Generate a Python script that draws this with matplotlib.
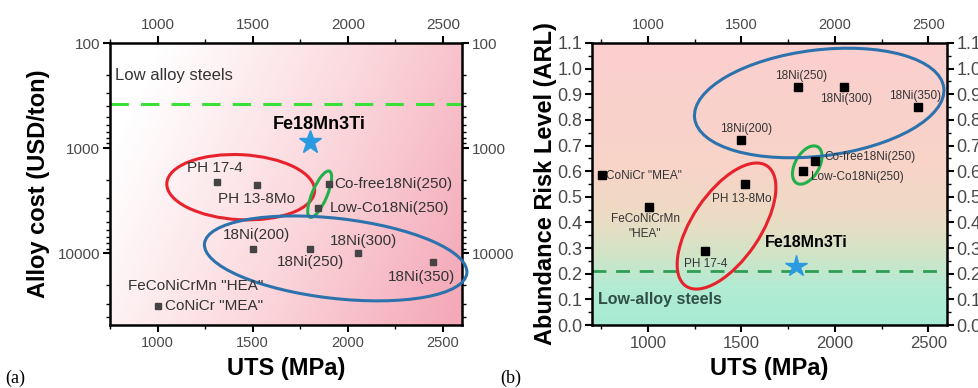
import numpy as np
import matplotlib
matplotlib.use('Agg')
import matplotlib.pyplot as plt
import matplotlib.transforms as mtransforms
from matplotlib.patches import Ellipse
from matplotlib.colors import LinearSegmentedColormap
from matplotlib.ticker import AutoMinorLocator, FixedLocator, FixedFormatter

plt.rcParams['font.family'] = ['Liberation Sans', 'DejaVu Sans']

# ---- panel (a): alloy cost vs UTS ----
cost_names = ['PH 17-4', 'PH 13-8Mo', 'Co-free18Ni(250)', 'Low-Co18Ni(250)',
              '18Ni(200)', '18Ni(250)', '18Ni(300)', '18Ni(350)', 'CoNiCr "MEA"']
cost_uts = [1310, 1520, 1900, 1845, 1500, 1800, 2055, 2450, 1000]
cost_usd = [2100, 2250, 2200, 3700, 9000, 9100, 10000, 12200, 32000]
cost_star = (1800, 880)          # Fe18Mn3Ti
cost_low_alloy = 380              # low alloy steels level

# ---- panel (b): abundance risk level vs UTS ----
arl_names = ['18Ni(250)', '18Ni(300)', '18Ni(350)', '18Ni(200)', 'Co-free18Ni(250)',
             'Low-Co18Ni(250)', 'CoNiCr "MEA"', 'FeCoNiCrMn\n"HEA"', 'PH 13-8Mo', 'PH 17-4']
arl_uts = [1800, 2050, 2445, 1500, 1895, 1830, 752, 1005, 1517, 1307]
arl_val = [0.93, 0.93, 0.85, 0.72, 0.64, 0.60, 0.585, 0.46, 0.55, 0.29]
arl_star = (1792, 0.23)
arl_low_alloy = 0.21

x_ticks = [1000, 1500, 2000, 2500]

# label placement (x, y, ha) for each point label
cost_lab_pos = [(1153, 1550, 'left'), (1316, 3060, 'left'), (1931, 2200, 'left'),
                (1905, 3730, 'left'), (1342, 6740, 'left'), (1626, 12200, 'left'),
                (1905, 7690, 'left'), (2210, 16600, 'left'), (1037, 32000, 'left')]
arl_lab_pos = [(1819, 0.971, 'center'), (2062, 0.881, 'center'), (2430, 0.893, 'center'),
               (1523, 0.764, 'center'), (1943, 0.655, 'left'), (1873, 0.577, 'left'),
               (774, 0.582, 'left'), (984, 0.385, 'center'), (1501, 0.491, 'center'),
               (1307, 0.237, 'center')]

fig = plt.figure(figsize=(9.79, 3.88), dpi=100)
ax1 = fig.add_axes([110 / 979, 1 - 325 / 388, 352 / 979, 282 / 388])
ax2 = fig.add_axes([592 / 979, 1 - 325 / 388, 355 / 979, 282 / 388])

TICK_C = '#4a4a4a'


def ring(ax, cx, cy, w, h, ang, color, lw=2.2):
    # ellipse sized in inches, centred on a data point
    tr = ax.figure.dpi_scale_trans + mtransforms.ScaledTranslation(cx, cy, ax.transData)
    ax.add_patch(Ellipse((0, 0), w, h, angle=ang, transform=tr, fill=False,
                         ec=color, lw=lw, clip_on=False, zorder=3))


def style_axes(ax, xsize, ysize, topsize):
    for s in ax.spines.values():
        s.set_linewidth(1.8)
    ax.tick_params(which='both', direction='out', top=True, right=True,
                   labeltop=True, labelright=True, colors='black', width=1.5)
    ax.tick_params(which='major', length=5)
    ax.tick_params(which='minor', length=3, width=1.0)
    ax.tick_params(axis='x', labelsize=xsize, labelcolor=TICK_C, pad=3)
    ax.tick_params(axis='y', labelsize=ysize, labelcolor=TICK_C, pad=2)
    ax.xaxis.set_major_locator(FixedLocator(x_ticks))
    ax.xaxis.set_minor_locator(AutoMinorLocator(2))
    for tk in ax.xaxis.get_major_ticks():
        tk.label2.set_fontsize(topsize)
    ax.set_xlabel('UTS (MPa)', fontsize=17, fontweight='bold')
    ax.xaxis.set_label_coords(0.5, -0.115)


# ---------- panel (a) ----------
gx, gy = np.meshgrid(np.linspace(0, 1, 300), np.linspace(0, 1, 200))
t = np.clip(0.85 * gx + 0.3 * (1 - gy) - 0.12, 0, 1)
cmap_a = LinearSegmentedColormap.from_list('a', ['#ffffff', '#fbd9de', '#f4a9b8'])
ax1.imshow(t, extent=[0, 1, 0, 1], transform=ax1.transAxes, origin='lower',
           aspect='auto', cmap=cmap_a, zorder=0)

ax1.set_yscale('log')
ax1.set_xlim(750, 2600)
ax1.set_ylim(48000, 100)
ax1.axhline(cost_low_alloy, color='#38e038', lw=2.2, dashes=(6, 4), zorder=2)
ax1.plot(cost_uts, cost_usd, 's', color='#444444', ms=4, zorder=4)
ax1.plot(*cost_star, '*', color='#2a9be0', ms=17, mec='#2a9be0', zorder=4)
for name, (tx, ty, ha) in zip(cost_names, cost_lab_pos):
    ax1.text(tx, ty, name, fontsize=11, color='#333333', ha=ha, va='center', zorder=5)
ax1.text(842, 20600, 'FeCoNiCrMn "HEA"', fontsize=11, color='#333333', va='center', zorder=5)
ax1.text(776, 202, 'Low alloy steels', fontsize=12, color='#333333', va='center')
ax1.text(1847, 590, 'Fe18Mn3Ti', fontsize=13, fontweight='bold', ha='center', va='center')

ring(ax1, 1437, 2350, 1.48, 0.65, -3, '#e8222c')
ring(ax1, 1852, 2740, 0.50, 0.15, 67, '#22b04a')
ring(ax1, 1936, 11170, 2.64, 0.80, -6.5, '#2c72ad')

style_axes(ax1, 10.5, 11, 11)
ax1.yaxis.set_major_locator(FixedLocator([100, 1000, 10000]))
ax1.yaxis.set_major_formatter(FixedFormatter(['100', '1000', '10000']))
ax1.set_ylabel('Alloy cost (USD/ton)', fontsize=17, fontweight='bold')
ax1.yaxis.set_label_coords(-0.17, 0.5)

# ---------- panel (b) ----------
cmap_b = LinearSegmentedColormap.from_list(
    'b', [(0.0, '#a6ecd4'), (0.14, '#b4ebd3'), (0.25, '#d2e4c6'),
          (0.38, '#ecdcc4'), (0.55, '#f7d4c8'), (1.0, '#fbcfcf')])
grad = np.linspace(0, 1, 256).reshape(-1, 1)
ax2.imshow(grad, extent=[0, 1, 0, 1], transform=ax2.transAxes, origin='lower',
           aspect='auto', cmap=cmap_b, zorder=0)

ax2.set_xlim(700, 2600)
ax2.set_ylim(0, 1.1)
ax2.axhline(arl_low_alloy, color='#2e9e55', lw=2.0, dashes=(5, 3.5), zorder=2)
ax2.plot(arl_uts, arl_val, 's', color='black', ms=5.5, zorder=4)
ax2.plot(*arl_star, '*', color='#2a9be0', ms=16, mec='#2a9be0', zorder=4)
for name, (tx, ty, ha) in zip(arl_names, arl_lab_pos):
    ax2.text(tx, ty, name, fontsize=8.5, color='#333333', ha=ha, va='center',
             linespacing=1.3, zorder=5)
ax2.text(731, 0.10, 'Low-alloy steels', fontsize=11.5, fontweight='bold',
         color='#2f4f47', va='center')
ax2.text(1846, 0.32, 'Fe18Mn3Ti', fontsize=11.5, fontweight='bold', ha='center', va='center')

ring(ax2, 1420, 0.386, 1.45, 0.68, 56, '#e8222c')
ring(ax2, 1852, 0.624, 0.42, 0.24, 60, '#22b04a')
ring(ax2, 1916, 0.866, 2.51, 1.06, 7, '#2c72ad')

style_axes(ax2, 12, 13, 10.5)
ax2.yaxis.set_major_locator(FixedLocator(np.round(np.arange(0, 1.11, 0.1), 1)))
ax2.yaxis.set_major_formatter(FixedFormatter([f'{v:.1f}' for v in np.arange(0, 1.11, 0.1)]))
ax2.yaxis.set_minor_locator(AutoMinorLocator(2))
ax2.set_ylabel('Abundance Risk Level (ARL)', fontsize=17, fontweight='bold')
ax2.yaxis.set_label_coords(-0.099, 0.5)

fig.text(5 / 979, 1 - 378 / 388, '(a)', fontsize=13, family='Liberation Serif', va='center')
fig.text(500 / 979, 1 - 378 / 388, '(b)', fontsize=13, family='Liberation Serif', va='center')

fig.savefig('out.png', dpi=100)
